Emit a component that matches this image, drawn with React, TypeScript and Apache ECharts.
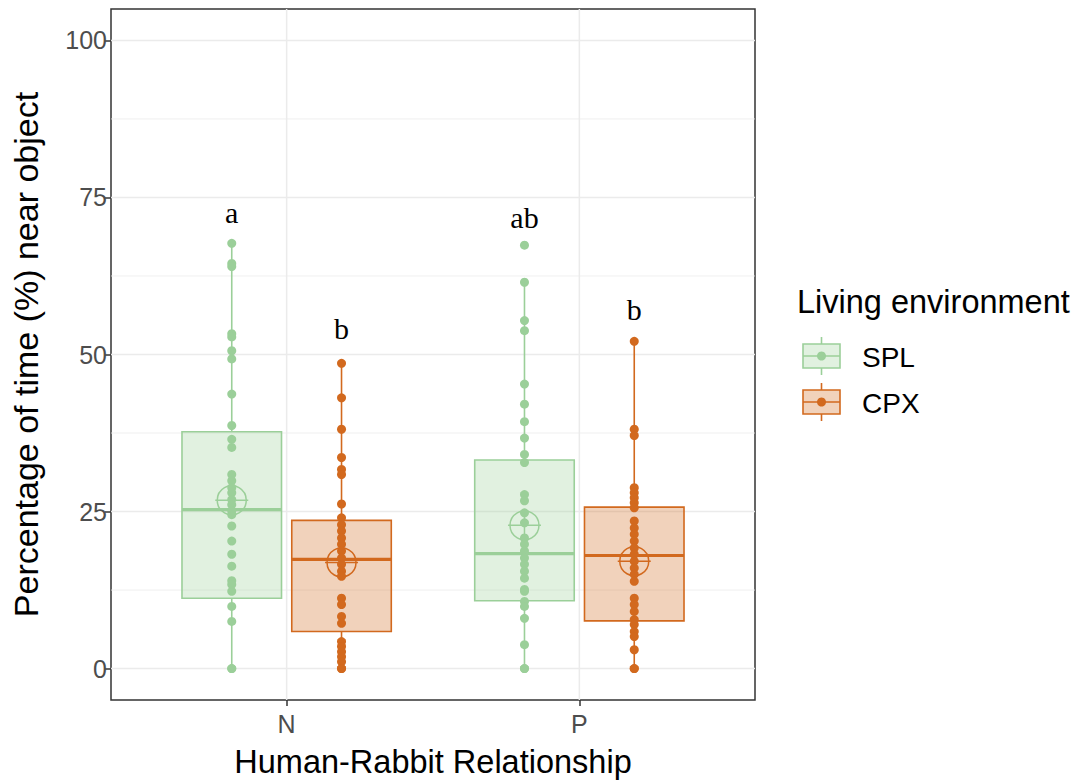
import React, { useEffect, useRef } from "react";
import * as echarts from "echarts";

// ---- data ----
const categories = ["N", "P"];
const groups = ["SPL", "CPX"];
const groupColors = ["#9BCF99", "#D2691E"];
const groupFills = ["rgba(155,207,153,0.3)", "rgba(210,105,30,0.3)"];

// individual observations (percentage of time near object)
const splN = [67.7, 64.5, 64.0, 53.3, 52.8, 50.6, 49.3, 43.7, 38.7, 36.5, 35.2, 30.9, 29.9, 28.8, 28.0, 26.9, 26.1, 25.1, 24.5, 22.7, 20.3, 18.2, 16.3, 14.0, 13.4, 12.3, 9.9, 7.5, 0, 0];
const cpxN = [48.6, 43.1, 38.1, 33.6, 31.7, 30.9, 26.2, 24.0, 22.9, 21.9, 20.8, 19.8, 18.7, 17.6, 16.6, 15.5, 14.7, 11.2, 10.2, 8.3, 7.2, 4.3, 3.5, 2.7, 1.9, 1.1, 0, 0];
const splP = [67.4, 61.5, 55.4, 53.8, 45.3, 42.1, 39.3, 36.7, 34.1, 32.8, 27.7, 26.7, 24.8, 23.2, 20.8, 19.8, 18.7, 17.6, 16.6, 15.5, 14.4, 12.6, 12.3, 10.7, 9.9, 8.0, 3.8, 0, 0];
const cpxP = [52.1, 38.1, 37.1, 28.8, 28.0, 27.2, 26.4, 25.6, 23.5, 22.4, 21.4, 20.3, 19.2, 18.2, 17.1, 16.0, 15.0, 13.9, 11.2, 10.2, 9.1, 7.8, 7.0, 5.9, 5.1, 3.0, 0, 0];

// box statistics [lower whisker, Q1, median, Q3, upper whisker] per category (N, P)
const splBox = [
  [0, 11.2, 25.3, 37.7, 67.7],
  [0, 10.8, 18.3, 33.2, 61.5],
];
const cpxBox = [
  [0, 5.9, 17.4, 23.6, 48.6],
  [0, 7.6, 18.0, 25.7, 52.1],
];
// means per category (N, P)
const splMean = [26.8, 22.8];
const cpxMean = [16.9, 17.1];

// significance letters per category (N, P)
const splLetters = ["a", "ab"];
const splLetterY = [72.6, 71.8];
const cpxLetters = ["b", "b"];
const cpxLetterY = [54.2, 57.1];

// axis ticks
const yTicks = [0, 25, 50, 75, 100];
const yMinor = [12.5, 37.5, 62.5, 87.5];
const xTicks = [1, 2];

const FONT = "'Liberation Sans', Arial, sans-serif";
const SERIF = "'Liberation Serif', 'Times New Roman', serif";
const DODGE = [-0.1875, 0.1875];
const BOX_W = 0.34;
const X_MIN = 0.4;
const X_MAX = 2.6;

export default function App() {
  const ref = useRef<HTMLDivElement>(null);

  useEffect(() => {
    if (!ref.current) return;
    const chart = echarts.init(ref.current, null, { renderer: "svg" });

    const pointsByGroup = [
      [splN, splP],
      [cpxN, cpxP],
    ];
    const boxByGroup = [splBox, cpxBox];
    const meanByGroup = [splMean, cpxMean];
    const lettersByGroup = [splLetters, cpxLetters];
    const letterYByGroup = [splLetterY, cpxLetterY];

    const gridData: number[][] = [
      ...yTicks.map((v) => [0, v, 0]),
      ...yMinor.map((v) => [0, v, 1]),
      ...xTicks.map((v) => [1, v, 0]),
    ];

    const series: any[] = [
      {
        type: "custom",
        name: "gridlines",
        z: 0,
        silent: true,
        data: gridData,
        encode: { x: 1, y: 1 },
        renderItem: (params: any, api: any) => {
          const orient = api.value(0);
          const v = api.value(1);
          const minor = api.value(2) === 1;
          let a, b;
          if (orient === 0) {
            a = api.coord([X_MIN, v]);
            b = api.coord([X_MAX, v]);
          } else {
            a = api.coord([v, -5]);
            b = api.coord([v, 105]);
          }
          return {
            type: "line",
            shape: { x1: a[0], y1: a[1], x2: b[0], y2: b[1] },
            style: { stroke: "#EBEBEB", lineWidth: minor ? 0.8 : 1.5 },
          };
        },
      },
    ];

    groups.forEach((g, gi) => {
      const color = groupColors[gi];
      // boxes
      series.push({
        type: "custom",
        name: g + " box",
        z: 1,
        data: boxByGroup[gi].map((b, ci) => [ci + 1 + DODGE[gi], ...b]),
        encode: { x: 0, y: [1, 2, 3, 4, 5] },
        renderItem: (params: any, api: any) => {
          const x = api.value(0);
          const lo = api.value(1);
          const q1 = api.value(2);
          const med = api.value(3);
          const q3 = api.value(4);
          const hi = api.value(5);
          const h = BOX_W / 2;
          const pLo = api.coord([x, lo]);
          const pHi = api.coord([x, hi]);
          const pQ1 = api.coord([x - h, q1]);
          const pQ3 = api.coord([x + h, q3]);
          const pML = api.coord([x - h, med]);
          const pMR = api.coord([x + h, med]);
          return {
            type: "group",
            children: [
              {
                type: "line",
                shape: { x1: pLo[0], y1: pLo[1], x2: pLo[0], y2: pQ1[1] },
                style: { stroke: color, lineWidth: 1.6 },
              },
              {
                type: "line",
                shape: { x1: pHi[0], y1: pHi[1], x2: pHi[0], y2: pQ3[1] },
                style: { stroke: color, lineWidth: 1.6 },
              },
              {
                type: "rect",
                shape: { x: pQ1[0], y: pQ3[1], width: pQ3[0] - pQ1[0], height: pQ1[1] - pQ3[1] },
                style: { fill: groupFills[gi], stroke: color, lineWidth: 1.6 },
              },
              {
                type: "line",
                shape: { x1: pML[0], y1: pML[1], x2: pMR[0], y2: pMR[1] },
                style: { stroke: color, lineWidth: 3.2 },
              },
            ],
          };
        },
      });
      // mean markers
      series.push({
        type: "custom",
        name: g + " mean",
        z: 2,
        data: meanByGroup[gi].map((m, ci) => [ci + 1 + DODGE[gi], m]),
        encode: { x: 0, y: 1 },
        renderItem: (params: any, api: any) => {
          const p = api.coord([api.value(0), api.value(1)]);
          const r = 14.5;
          return {
            type: "group",
            children: [
              { type: "circle", shape: { cx: p[0], cy: p[1], r }, style: { fill: "none", stroke: color, lineWidth: 1.5 } },
              { type: "line", shape: { x1: p[0] - r - 2, y1: p[1], x2: p[0] + r + 2, y2: p[1] }, style: { stroke: color, lineWidth: 1.5 } },
              { type: "line", shape: { x1: p[0], y1: p[1] - r, x2: p[0], y2: p[1] + r }, style: { stroke: color, lineWidth: 1.5 } },
            ],
          };
        },
      });
      // points
      const pts: number[][] = [];
      pointsByGroup[gi].forEach((arr, ci) => {
        arr.forEach((v) => pts.push([ci + 1 + DODGE[gi], v]));
      });
      series.push({
        type: "scatter",
        name: g,
        z: 3,
        symbol: "circle",
        symbolSize: 9,
        itemStyle: { color, opacity: 1 },
        data: pts,
      });
      // letters
      series.push({
        type: "custom",
        name: g + " letters",
        z: 4,
        data: letterYByGroup[gi].map((y, ci) => [ci + 1 + DODGE[gi], y]),
        encode: { x: 0, y: 1 },
        renderItem: (params: any, api: any) => {
          const p = api.coord([api.value(0), api.value(1)]);
          return {
            type: "text",
            x: p[0],
            y: p[1],
            style: {
              text: lettersByGroup[gi][params.dataIndex],
              fontSize: 30,
              fontFamily: SERIF,
              fill: "#000",
              align: "center",
              verticalAlign: "middle",
            },
          };
        },
      });
    });

    const legendChildren: any[] = [
      {
        type: "text",
        x: 797,
        y: 302,
        style: { text: "Living environment", fontSize: 32.5, fontFamily: FONT, fill: "#000", verticalAlign: "middle" },
      },
    ];
    const keyY = [356, 402];
    groups.forEach((g, gi) => {
      const yc = keyY[gi];
      const color = groupColors[gi];
      legendChildren.push(
        { type: "line", shape: { x1: 821.5, y1: yc - 19, x2: 821.5, y2: yc + 19 }, style: { stroke: color, lineWidth: 1.6 } },
        { type: "rect", shape: { x: 803, y: yc - 12, width: 37, height: 24 }, style: { fill: "#fff", stroke: "none" } },
        { type: "rect", shape: { x: 803, y: yc - 12, width: 37, height: 24 }, style: { fill: groupFills[gi], stroke: color, lineWidth: 1.6 } },
        { type: "line", shape: { x1: 803, y1: yc, x2: 840, y2: yc }, style: { stroke: color, lineWidth: 1.6 } },
        { type: "circle", shape: { cx: 821.5, cy: yc, r: 4.5 }, style: { fill: color } },
        {
          type: "text",
          x: 862,
          y: yc + 1,
          style: { text: g, fontSize: 28, fontFamily: FONT, fill: "#000", verticalAlign: "middle" },
        }
      );
    });

    chart.setOption({
      animation: false,
      backgroundColor: "#fff",
      grid: {
        left: 111,
        right: 319,
        top: 9,
        bottom: 82,
        show: true,
        borderColor: "#333333",
        borderWidth: 1.5,
        backgroundColor: "transparent",
        containLabel: false,
        outerBoundsMode: "none",
      },
      xAxis: {
        type: "value",
        min: X_MIN,
        max: X_MAX,
        axisLine: { show: false, onZero: false },
        axisTick: { show: true, length: 6, customValues: xTicks, lineStyle: { color: "#333333", width: 1.5 } },
        axisLabel: {
          customValues: xTicks,
          formatter: (v: number) => categories[Math.round(v) - 1] ?? "",
          color: "#4D4D4D",
          fontSize: 25,
          fontFamily: FONT,
          margin: 11,
        },
        splitLine: { show: false },
        name: "Human-Rabbit Relationship",
        nameLocation: "middle",
        nameGap: 45,
        nameTextStyle: { fontSize: 32.5, color: "#000", fontFamily: FONT },
      },
      yAxis: {
        type: "value",
        min: -5,
        max: 105,
        axisLine: { show: false, onZero: false },
        axisTick: { show: true, length: 6, customValues: yTicks, lineStyle: { color: "#333333", width: 1.5 } },
        axisLabel: {
          customValues: yTicks,
          color: "#4D4D4D",
          fontSize: 25,
          fontFamily: FONT,
          margin: 4,
        },
        splitLine: { show: false },
        name: "Percentage of time (%) near object",
        nameLocation: "middle",
        nameGap: 68,
        nameRotate: 90,
        nameTextStyle: { fontSize: 34, color: "#000", fontFamily: FONT },
      },
      graphic: [{ type: "group", children: legendChildren }],
      series,
    });

    return () => chart.dispose();
  }, []);

  return <div ref={ref} style={{ position: "fixed", left: 0, top: 0, width: 1074, height: 782 }} />;
}
